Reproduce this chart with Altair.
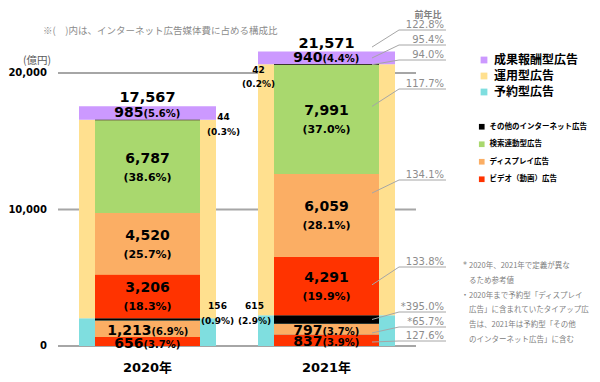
import altair as alt
import pandas as pd

# ---------------- data (億円) ----------------
years = ["2020年", "2021年"]
totals = [17567, 21571]

# 予約型広告 breakdown
reserve_video = [656, 837]
reserve_display = [1213, 797]
reserve_other = [156, 615]
# 運用型広告 breakdown
perf_video = [3206, 4291]
perf_display = [4520, 6059]
perf_search = [6787, 7991]
perf_other = [44, 42]
# 成果報酬型広告
reward = [985, 940]

share_reserve_video = ["3.7%", "3.9%"]
share_reserve_display = ["6.9%", "3.7%"]
share_reserve_other = ["0.9%", "2.9%"]
share_perf_video = ["18.3%", "19.9%"]
share_perf_display = ["25.7%", "28.1%"]
share_perf_search = ["38.6%", "37.0%"]
share_perf_other = ["0.3%", "0.2%"]
share_reward = ["5.6%", "4.4%"]

# 前年比 (2021 vs 2020), top to bottom
yoy_keys = ["total", "rw", "po", "ps", "pd", "pv", "ro", "rd", "rv"]
yoy_text = ["122.8%", "95.4%", "94.0%", "117.7%", "134.1%", "133.8%", "*395.0%", "*65.7%", "127.6%"]

y_ticks = [0, 10000, 20000]

outer_types = ["成果報酬型広告", "運用型広告", "予約型広告"]
outer_colors = ["#CC99FF", "#FFE08F", "#7FDEDF"]
inner_types = ["その他のインターネット広告", "検索連動型広告", "ディスプレイ広告", "ビデオ（動画）広告"]
inner_colors = ["#000000", "#A9D86E", "#FBAE64", "#FF3300"]

note_top = "※(　)内は、インターネット広告媒体費に占める構成比"
footnote_lines = [
    "2020年、2021年で定義が異な",
    "るため参考値",
    "2020年まで予約型「ディスプレイ",
    "広告」に含まれていたタイアップ広",
    "告は、2021年は予約型「その他",
    "のインターネット広告」に含む",
]

# ---------------- layout constants ----------------
TOP = 4
W, H = 358, 334
YMAX = H / 273 * 20000
NUM_FONT = "DejaVu Sans, Noto Sans CJK JP"
JP_FONT = "Noto Sans CJK JP, sans-serif"
GRAY_TXT = "#8C8C8C"
OX, OY = 58, 8 + TOP  # page position of plot origin


def page_y_to_val(yp):
    """annotation helper: page pixel row -> value on the y scale"""
    return (OY + H - yp) / H * YMAX


# ---------------- tables ----------------
vals = {"rv": reserve_video, "rd": reserve_display, "ro": reserve_other,
        "pv": perf_video, "pd": perf_display, "ps": perf_search, "po": perf_other,
        "rw": reward}
shares = {"rv": share_reserve_video, "rd": share_reserve_display, "ro": share_reserve_other,
          "pv": share_perf_video, "pd": share_perf_display, "ps": share_perf_search,
          "po": share_perf_other, "rw": share_reward}
inner_type_of = {"rv": inner_types[3], "rd": inner_types[2], "ro": inner_types[0],
                 "pv": inner_types[3], "pd": inner_types[2], "ps": inner_types[1],
                 "po": inner_types[0]}
stack_keys = ["rv", "rd", "ro", "pv", "pd", "ps", "po", "rw"]

outer_rows, inner_rows = [], []
bottoms = []
for i, yr in enumerate(years):
    res = reserve_video[i] + reserve_display[i] + reserve_other[i]
    per = perf_video[i] + perf_display[i] + perf_search[i] + perf_other[i]
    for o, (t, v) in enumerate([("予約型広告", res), ("運用型広告", per), ("成果報酬型広告", reward[i])]):
        outer_rows.append({"year": yr, "type": t, "value": v, "ord": o})
    for o, k in enumerate(stack_keys[:-1]):
        inner_rows.append({"year": yr, "type": inner_type_of[k], "value": vals[k][i], "ord": o})
    b, acc = {}, 0
    for k in stack_keys:
        b[k] = acc
        acc += vals[k][i]
    bottoms.append(b)

outer_df = pd.DataFrame(outer_rows)
inner_df = pd.DataFrame(inner_rows)
tick_df = pd.DataFrame({"v": y_ticks, "lab": [f"{v:,}" for v in y_ticks]})
year_df = pd.DataFrame({"year": years})


def mid(k, i):
    return bottoms[i][k] + vals[k][i] / 2


def tw(s, size):
    cw = {",": 0.38, ".": 0.38, "%": 1.002, "(": 0.457, ")": 0.457}
    return sum(cw.get(c, 0.696) for c in s) * size


# label specs: (year idx, y value, text, dx, dy, size, align)
labels = []
for i in range(2):
    labels.append((i, totals[i], f"{totals[i]:,}", 0, -8, 14.5, "center"))
    for k in ["pv", "pd", "ps"]:
        labels.append((i, mid(k, i), f"{vals[k][i]:,}", 0, -8, 14, "center"))
        labels.append((i, mid(k, i), f"({shares[k][i]})", 0, 11, 11, "center"))
    for k in ["rv", "rd", "rw"]:
        n, p = f"{vals[k][i]:,}", f"({shares[k][i]})"
        split = round((tw(n, 14) - tw(p, 10)) / 2)
        dy = 0 if k == "rw" else 2
        labels.append((i, mid(k, i), n, split, dy, 14, "right"))
        labels.append((i, mid(k, i), p, split, dy + 1, 10, "left"))
side = {0: {"ro": (70, -13, 2), "po": (76, -3, 12)},
        1: {"ro": (-72, -13, 2), "po": (-68, 5, 19)}}
for i in range(2):
    for k, (dx, dy1, dy2) in side[i].items():
        labels.append((i, mid(k, i), f"{vals[k][i]:,}", dx, dy1, 9, "center"))
        labels.append((i, mid(k, i), f"({shares[k][i]})", dx, dy2, 9, "center"))

lab_df = pd.DataFrame(labels, columns=["yi", "yval", "text", "dx", "dy", "size", "align"])
lab_df["year"] = [years[i] for i in lab_df["yi"]]

# YoY annotation (2021 bar), anchor inside the segment and label row
anchor_frac = {"rw": 0.5, "po": 0.5, "ps": 0.62, "pd": 0.77, "pv": 0.52,
               "ro": 0.5, "rd": 0.15, "rv": 0.35}
label_rows_px = [30, 45, 60, 89, 180, 267, 312, 327, 341]
yoy_rows = []
for k, t, yp in zip(yoy_keys, yoy_text, label_rows_px):
    if k == "total":
        a = totals[1] + 330
    else:
        a = bottoms[1][k] + anchor_frac[k] * vals[k][1]
    yoy_rows.append({"anchor": a, "ylab": page_y_to_val(yp), "text": t})
yoy_df = pd.DataFrame(yoy_rows)

# ---------------- chart ----------------
xscale = alt.Scale(domain=years, paddingInner=0, paddingOuter=0)
xenc = alt.X("year:N", sort=years, scale=xscale, axis=None)
yscale = alt.Scale(domain=[0, YMAX], nice=False, zero=True)

# value-axis grid and labels
grid = alt.Chart(tick_df).mark_rule(color="#A6A6A6", strokeWidth=2).encode(
    y=alt.Y("v:Q", scale=yscale, axis=None), x=alt.value(0), x2=alt.value(W))
ylabels = alt.Chart(tick_df).mark_text(
    align="right", baseline="middle", fontSize=10, fontWeight="bold", font=NUM_FONT, color="#000"
).encode(y=alt.Y("v:Q", scale=yscale, axis=None), x=alt.value(-11), text="lab:N")
unit_lab = alt.Chart(pd.DataFrame({"t": ["(億円)"]})).mark_text(
    fontSize=10.5, font=JP_FONT, color="#595959", baseline="middle"
).encode(x=alt.value(37 - OX), y=alt.value(61 - OY), text="t:N")
xlabels = alt.Chart(year_df).mark_text(
    baseline="middle", fontSize=13, fontWeight="bold", font=NUM_FONT, color="#000"
).encode(x=xenc, y=alt.value(368 - OY), text="year:N")

outer = alt.Chart(outer_df).mark_bar(size=137).encode(
    x=xenc,
    y=alt.Y("value:Q", stack="zero", scale=yscale, axis=None),
    fill=alt.Fill("type:N", scale=alt.Scale(domain=outer_types, range=outer_colors),
                  legend=alt.Legend(orient="none", legendX=478 - OX, legendY=54 - OY, title=None,
                                    symbolType="square", symbolSize=46, symbolStrokeWidth=0,
                                    labelFontSize=12, labelFontWeight="bold", labelFont=JP_FONT,
                                    labelColor="#000", rowPadding=4, padding=0)),
    order=alt.Order("ord:Q", sort="ascending"),
)

inner = alt.Chart(inner_df).mark_bar(size=105).encode(
    x=xenc,
    y=alt.Y("value:Q", stack="zero", scale=yscale, axis=None),
    color=alt.Color("type:N", scale=alt.Scale(domain=inner_types, range=inner_colors),
                    legend=alt.Legend(orient="none", legendX=478 - OX, legendY=123 - OY, title=None,
                                      symbolType="square", symbolSize=32, symbolStrokeWidth=0,
                                      labelFontSize=7.5, labelFontWeight="bold", labelFont=JP_FONT,
                                      labelColor="#000", rowPadding=8.5, padding=0)),
    order=alt.Order("ord:Q", sort="ascending"),
)

layers = [grid, ylabels, unit_lab, xlabels, outer, inner]

for (dx, dy, size, align), g in lab_df.groupby(["dx", "dy", "size", "align"]):
    layers.append(
        alt.Chart(g.drop(columns=["yi"])).mark_text(
            dx=float(dx), dy=float(dy), fontSize=float(size), fontWeight="bold", align=align,
            baseline="middle", font=NUM_FONT, color="#000"
        ).encode(x=xenc, y=alt.Y("yval:Q", scale=yscale, axis=None, stack=None), text="text:N")
    )

leader = alt.Chart(yoy_df).mark_rule(color="#A6A6A6", strokeWidth=1).encode(
    x=alt.value(372 - OX), x2=alt.value(399 - OX),
    y=alt.Y("anchor:Q", scale=yscale, axis=None), y2="ylab:Q")
underline = alt.Chart(yoy_df).mark_rule(color="#A6A6A6", strokeWidth=1).encode(
    x=alt.value(399 - OX), x2=alt.value(446 - OX),
    y=alt.Y("ylab:Q", scale=yscale, axis=None))
yoy_txt = alt.Chart(yoy_df).mark_text(
    align="right", baseline="alphabetic", dy=-2, fontSize=10, font=NUM_FONT, color=GRAY_TXT
).encode(x=alt.value(444 - OX), y=alt.Y("ylab:Q", scale=yscale, axis=None), text="text:N")

head = alt.Chart(pd.DataFrame({"t": ["前年比"]})).mark_text(
    fontSize=9, fontWeight="bold", font=JP_FONT, color="#7F7F7F", baseline="middle"
).encode(x=alt.value(428 - OX), y=alt.value(14.5 - OY), text="t:N")

top_note = alt.Chart(pd.DataFrame({"t": [note_top]})).mark_text(
    fontSize=9.5, font=JP_FONT, color="#8C8C8C", align="left", baseline="middle"
).encode(x=alt.value(43 - OX), y=alt.value(31 - OY), text="t:N")

foot = alt.Chart(pd.DataFrame({"t": ["x"]})).mark_text(
    text=footnote_lines, fontSize=7.5, font=JP_FONT, color="#808080", align="left",
    baseline="middle", lineHeight=14.8
).encode(x=alt.value(469 - OX), y=alt.value(266 - OY))
star = alt.Chart(pd.DataFrame({"t": ["*"]})).mark_text(
    fontSize=8, font=NUM_FONT, color="#808080", align="center", baseline="middle"
).encode(x=alt.value(465 - OX), y=alt.value(266 - OY), text="t:N")
dot = alt.Chart(pd.DataFrame({"t": ["・"]})).mark_text(
    fontSize=8, font=JP_FONT, color="#808080", align="center", baseline="middle"
).encode(x=alt.value(465 - OX), y=alt.value(295.6 - OY), text="t:N")

layers += [leader, underline, yoy_txt, head, top_note, foot, star, dot]

chart = alt.layer(*layers).resolve_scale(fill="independent", color="independent").properties(
    width=W, height=H,
    padding={"left": OX - 8, "top": TOP, "right": 584 - (OX - 8) - W, "bottom": 382 - 16 - TOP - H},
    autosize=alt.AutoSizeParams(type="none"),
).configure(background="white", view=alt.ViewConfig(stroke=None))

chart.save("out.html", embed_options={"renderer": "svg", "actions": False})
